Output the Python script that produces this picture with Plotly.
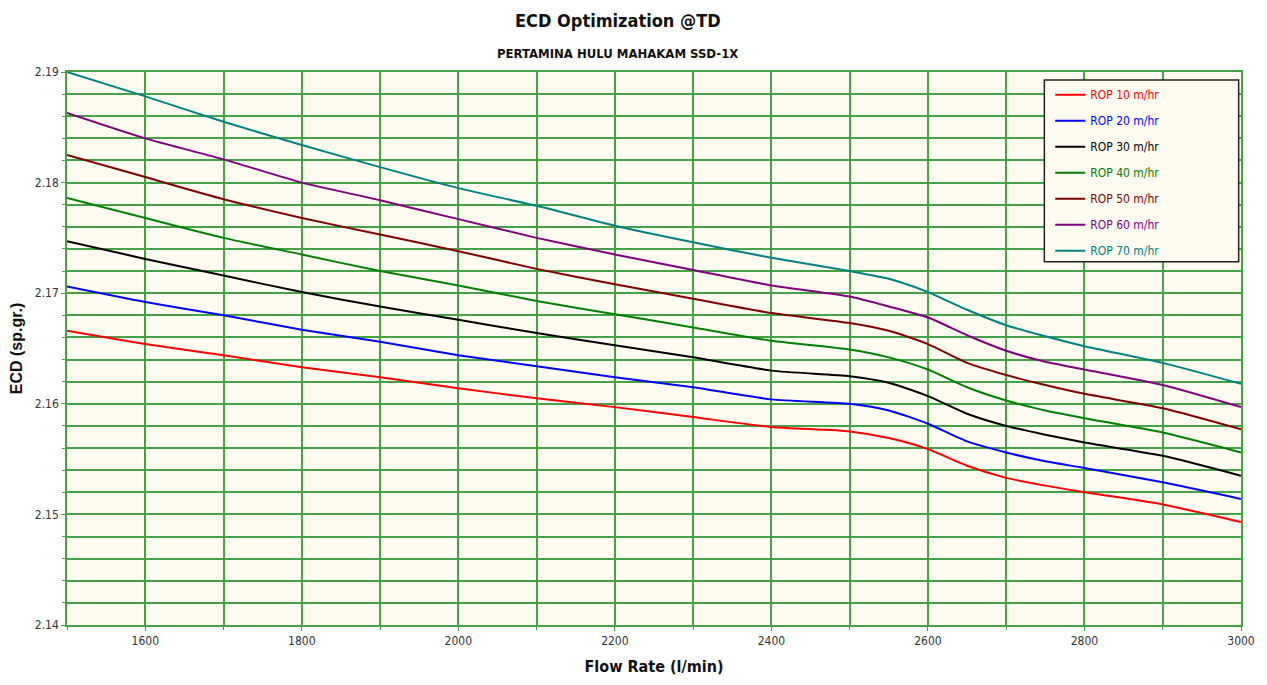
import plotly.graph_objects as go

# Flow rate (l/min) sample points
flow = [1500, 1600, 1700, 1800, 1900, 2000, 2100, 2200, 2300, 2400,
        2500, 2550, 2600, 2650, 2700, 2750, 2800, 2900, 3000]

# ECD (sp.gr.) for each rate of penetration
ecd_rop10 = [2.1666, 2.1654, 2.1644, 2.1633, 2.1624, 2.1614, 2.1605, 2.1597, 2.1588, 2.1579,
             2.1575, 2.1569, 2.1559, 2.1544, 2.1533, 2.1526, 2.1520, 2.1509, 2.1493]
ecd_rop20 = [2.1706, 2.1692, 2.1680, 2.1667, 2.1656, 2.1644, 2.1634, 2.1624, 2.1615, 2.1604,
             2.1600, 2.1594, 2.1582, 2.1566, 2.1556, 2.1548, 2.1542, 2.1529, 2.1514]
ecd_rop30 = [2.1747, 2.1731, 2.1716, 2.1701, 2.1688, 2.1676, 2.1664, 2.1653, 2.1642, 2.1630,
             2.1625, 2.1619, 2.1607, 2.1591, 2.1580, 2.1572, 2.1565, 2.1553, 2.1535]
ecd_rop40 = [2.1786, 2.1768, 2.1750, 2.1735, 2.1720, 2.1707, 2.1693, 2.1681, 2.1669, 2.1657,
             2.1649, 2.1642, 2.1631, 2.1615, 2.1603, 2.1594, 2.1587, 2.1574, 2.1556]
ecd_rop50 = [2.1825, 2.1805, 2.1785, 2.1768, 2.1753, 2.1738, 2.1722, 2.1708, 2.1695, 2.1682,
             2.1673, 2.1666, 2.1654, 2.1637, 2.1626, 2.1617, 2.1609, 2.1596, 2.1577]
ecd_rop60 = [2.1863, 2.1840, 2.1821, 2.1800, 2.1784, 2.1767, 2.1750, 2.1735, 2.1721, 2.1707,
             2.1697, 2.1688, 2.1678, 2.1662, 2.1648, 2.1638, 2.1631, 2.1617, 2.1597]
ecd_rop70 = [2.1900, 2.1878, 2.1855, 2.1834, 2.1814, 2.1795, 2.1779, 2.1761, 2.1746, 2.1732,
             2.1720, 2.1713, 2.1701, 2.1685, 2.1671, 2.1661, 2.1652, 2.1637, 2.1618]

series_names = ["ROP 10 m/hr", "ROP 20 m/hr", "ROP 30 m/hr", "ROP 40 m/hr",
                "ROP 50 m/hr", "ROP 60 m/hr", "ROP 70 m/hr"]
series_values = [ecd_rop10, ecd_rop20, ecd_rop30, ecd_rop40, ecd_rop50, ecd_rop60, ecd_rop70]
series_colors = ["#FF0000", "#0000FF", "#000000", "#008000", "#800000", "#800080", "#008080"]

x_ticks = [1600, 1800, 2000, 2200, 2400, 2600, 2800, 3000]
y_ticks = [2.14, 2.15, 2.16, 2.17, 2.18, 2.19]

NARROW = "DejaVu Sans Condensed, Liberation Sans Narrow, Arial Narrow, Liberation Sans, Arial, sans-serif"
WIDE = "Liberation Sans, Arial, sans-serif"
GRID = "#45A345"
PANEL = "#FDFBF0"

fig = go.Figure()
for i, (name, vals, col) in enumerate(zip(series_names, series_values, series_colors)):
    fig.add_trace(go.Scatter(
        x=flow, y=vals, mode="lines",
        name=f"<span style='color:{col}'>{name}</span>",
        legendgroup=f"g{i}",
        line=dict(color=col, width=2, shape="spline", smoothing=0.6),
    ))

fig.update_layout(
    width=1267, height=685,
    margin=dict(l=67, r=24, t=72, b=56),
    paper_bgcolor="white",
    plot_bgcolor=PANEL,
    font=dict(family=NARROW, color="#222222", size=12),
    showlegend=True,
    legend=dict(
        x=0.8375, y=0.985, xanchor="left", yanchor="top",
        bgcolor="rgba(0,0,0,0)", borderwidth=0,
        font=dict(family=NARROW, size=12),
        tracegroupgap=7,
        itemwidth=30,
    ),
    # framed panel behind the legend entries
    shapes=[
        dict(type="rect", xref="paper", yref="paper",
             x0=0.8325, x1=0.998, y0=0.657, y1=0.9856,
             fillcolor=PANEL, line=dict(color="#222222", width=1.5), layer="above"),
    ],
    annotations=[
        dict(text="<b>ECD Optimization @TD</b>", xref="paper", yref="paper",
             x=0.469, y=1.0, yshift=52, xanchor="center", yanchor="middle",
             showarrow=False, font=dict(family=NARROW, size=18, color="#111111")),
        dict(text="<b>PERTAMINA HULU MAHAKAM SSD-1X</b>", xref="paper", yref="paper",
             x=0.469, y=1.0, yshift=19, xanchor="center", yanchor="middle",
             showarrow=False, font=dict(family=NARROW, size=13, color="#111111")),
    ],
)

fig.update_xaxes(
    range=[1500, 3000],
    tickvals=x_ticks,
    ticks="outside", ticklen=4, tickcolor=GRID,
    showgrid=True, gridcolor=GRID, gridwidth=1.5,
    minor=dict(dtick=100, tick0=1500, showgrid=True, gridcolor=GRID, gridwidth=1.5,
               ticks="outside", ticklen=3, tickcolor=GRID),
    showline=True, linecolor=GRID, linewidth=1.5, mirror=True,
    zeroline=False,
    tickfont=dict(size=12, color="#333333"),
    title=dict(text="<b>Flow Rate (l/min)</b>",
               font=dict(family=NARROW, size=16, color="#111111"), standoff=14),
)
fig.update_yaxes(
    range=[2.14, 2.19],
    tickvals=y_ticks, tickformat=".2f",
    ticks="outside", ticklen=4, tickcolor=GRID,
    showgrid=True, gridcolor=GRID, gridwidth=1.5,
    minor=dict(dtick=0.002, tick0=2.14, showgrid=True, gridcolor=GRID, gridwidth=1.5,
               ticks="outside", ticklen=3, tickcolor=GRID),
    showline=True, linecolor=GRID, linewidth=1.5, mirror=True,
    zeroline=False,
    tickfont=dict(size=12, color="#333333"),
    title=dict(text="<b>ECD (sp.gr.)</b>",
               font=dict(family=WIDE, size=16, color="#111111"), standoff=8),
)

fig.write_html("out.html")
